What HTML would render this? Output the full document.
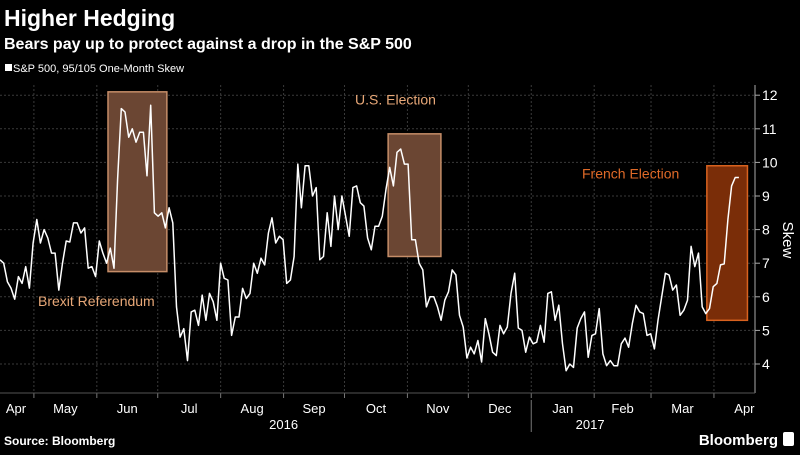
<!DOCTYPE html>
<html><head><meta charset="utf-8"><style>
body{margin:0;background:#000;width:800px;height:450px;overflow:hidden;font-family:"Liberation Sans",sans-serif;}
svg text{font-family:"Liberation Sans",sans-serif;}
</style></head><body>
<svg id="c" width="800" height="450">
<text x="4" y="26" fill="#fff" font-size="23" font-weight="bold">Higher Hedging</text>
<text x="4" y="49" fill="#fff" font-size="16" font-weight="bold">Bears pay up to protect against a drop in the S&amp;P 500</text>
<rect x="5" y="64" width="7" height="7" fill="#fff"/>
<text x="13" y="72" fill="#fff" font-size="11">S&amp;P 500, 95/105 One-Month Skew</text>
<g id="grid"></g><g id="boxes"></g><g id="series"></g><g id="axes"></g>
<text x="4" y="445" fill="#fff" font-size="12" font-weight="bold">Source: Bloomberg</text>
<text x="778" y="445" fill="#fff" font-size="15" font-weight="bold" text-anchor="end">Bloomberg</text>
<rect x="783" y="432" width="11" height="14" rx="2" fill="#fff"/>
</svg>
<script>
const skewValues=[7.1,7.0,6.45,6.26,5.93,6.6,6.4,6.9,6.26,7.6,8.3,7.6,8.0,7.75,7.3,7.3,6.2,7.0,7.66,7.63,8.2,8.2,7.9,8.05,6.85,6.9,6.6,7.66,7.3,7.0,7.45,6.85,9.5,11.6,11.5,10.75,11.0,10.6,10.9,10.9,9.6,11.7,8.5,8.4,8.5,8.05,8.65,8.2,5.7,4.8,5.05,4.1,5.55,5.6,5.15,6.05,5.3,6.1,5.85,5.3,7.0,6.55,6.5,4.85,5.4,5.4,6.25,5.95,6.1,7.0,6.7,7.15,6.95,7.9,8.35,7.6,7.8,7.7,6.4,6.5,7.2,9.95,8.65,9.9,9.9,9.0,9.25,7.1,7.2,8.5,7.5,9.0,8.0,9.0,8.4,7.8,9.25,9.3,8.8,8.7,7.75,7.4,8.1,8.1,8.4,9.2,9.85,9.3,10.3,10.4,9.95,9.95,7.7,7.7,7.0,6.8,5.7,6.0,6.0,5.7,5.3,5.9,6.15,6.8,6.65,5.45,5.1,4.18,4.5,4.3,4.7,4.06,5.35,4.9,4.35,4.25,5.15,4.9,5.1,6.1,6.7,5.07,5.0,4.35,4.8,4.6,4.65,5.15,4.65,6.1,6.15,5.3,5.75,4.6,3.8,4.0,3.9,5.07,5.35,5.55,4.2,4.85,4.9,5.65,4.3,3.95,4.1,3.95,3.95,4.6,4.77,4.5,5.2,5.75,5.55,5.5,4.85,4.9,4.45,5.3,6.0,6.7,6.65,6.2,6.35,5.45,5.6,5.9,7.5,6.9,7.3,5.7,5.5,5.65,6.3,6.4,6.95,6.98,8.3,9.3,9.55,9.55];
const seriesStartDay=13.3, seriesEndDay=377.3; // days since 2016-04-01
const yTicks=[4,5,6,7,8,9,10,11,12];
const monthLabels=["Apr","May","Jun","Jul","Aug","Sep","Oct","Nov","Dec","Jan","Feb","Mar","Apr"];
const monthStartDays=[0,30,61,91,122,153,183,214,244,275,306,334,365];
const yearLabels=["2016","2017"];
const yearDays=[153,304];
const events=[{name:"brexit",start:66.5,end:95.5,lo:6.75,hi:12.1,label:"Brexit Referendum",lx:38,lv:5.72,fill:"#6b4633",stroke:"#c58d68",tc:"#e8a878"},
{name:"us-election",start:204.5,end:230.5,lo:7.2,hi:10.85,label:"U.S. Election",lx:355,lv:11.73,fill:"#6b4633",stroke:"#c58d68",tc:"#e8a878"},
{name:"french-election",start:361.5,end:381.5,lo:5.3,hi:9.9,label:"French Election",lx:582,lv:9.52,fill:"#7a2d08",stroke:"#d8621f",tc:"#e06a28"}];
const X=d=>-27+d*2.03, Y=v=>364-(v-4)*33.6;
const NS="http://www.w3.org/2000/svg";
function mk(t,p,a){const e=document.createElementNS(NS,t);for(const k in a)e.setAttribute(k,a[k]);p.appendChild(e);return e;}
const grid=document.getElementById('grid'),axes=document.getElementById('axes'),boxes=document.getElementById('boxes'),ser=document.getElementById('series');
yTicks.forEach(v=>{
 const l=mk('line',grid,{x1:0,x2:755,y1:Y(v),y2:Y(v),stroke:'#3a3a3a','stroke-dasharray':'2,2'});
 
 
 const tk=mk('line',axes,{x1:755,x2:760,y1:Y(v),y2:Y(v),stroke:'#aaa'});
 
 
 const t=mk('text',axes,{x:762,y:Y(v)+5,fill:'#fff','font-size':14});
 t.textContent=v;
 
 
});
monthStartDays.forEach((d,i)=>{
 const x=X(d);
 if(x>0&&x<755){const g=mk('line',grid,{x1:x,x2:x,y1:85,y2:393,stroke:'#3a3a3a','stroke-dasharray':'2,2'});
 
 
 const tk=mk('line',axes,{x1:x,x2:x,y1:393,y2:398,stroke:'#777'});
 
 }
 const nd=i<monthStartDays.length-1?monthStartDays[i+1]:d+30;
 let cx=(X(d)+X(nd))/2; if(i===0)cx=16;
 const t=mk('text',axes,{x:cx,y:413,fill:'#fff','font-size':13,'text-anchor':'middle'});
 t.textContent=monthLabels[i];
 
 
});
yearLabels.forEach((y,i)=>{
 const t=mk('text',axes,{x:X(yearDays[i]),y:429,fill:'#fff','font-size':13,'text-anchor':'middle'});
 t.textContent=y;
 
 
});
const sep=mk('line',axes,{x1:X(275),x2:X(275),y1:400,y2:432,stroke:'#777'});


const ax=mk('line',axes,{x1:755,x2:755,y1:85,y2:393,stroke:'#aaa'});


const bx=mk('line',axes,{x1:0,x2:755,y1:393,y2:393,stroke:'#555'});


const yt=mk('text',axes,{x:783,y:240,fill:'#fff','font-size':15,'text-anchor':'middle',transform:'rotate(90 783 240)'});
yt.textContent='Skew';


events.forEach(e=>{
 const r=mk('rect',boxes,{x:X(e.start),y:Y(e.hi),width:X(e.end)-X(e.start),height:Y(e.lo)-Y(e.hi),fill:e.fill,stroke:e.stroke,'stroke-width':1.5});
 
 
 const t=mk('text',boxes,{x:e.lx,y:Y(e.lv),fill:e.tc,'font-size':14});
 t.textContent=e.label;
 
 
});
const n=skewValues.length;
const pts=skewValues.map((v,i)=>X(seriesStartDay+(seriesEndDay-seriesStartDay)*i/(n-1)).toFixed(1)+','+Y(v).toFixed(1)).join(' ');
const pl=mk('polyline',ser,{points:pts,fill:'none',stroke:'#fff','stroke-width':1.5,'stroke-linejoin':'round'});


</script>
</body></html>
